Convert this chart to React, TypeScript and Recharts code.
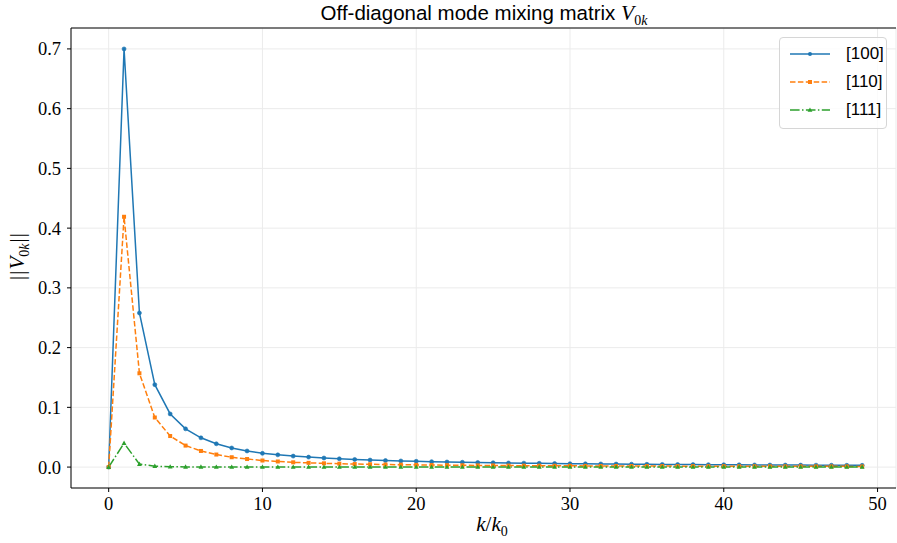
import { LineChart, Line, XAxis, YAxis, CartesianGrid, ReferenceLine } from "recharts";

const kValues = [
  0, 1, 2, 3, 4, 5, 6, 7, 8, 9, 10, 11, 12, 13, 14, 15, 16, 17, 18, 19, 20, 21, 22, 23, 24,
  25, 26, 27, 28, 29, 30, 31, 32, 33, 34, 35, 36, 37, 38, 39, 40, 41, 42, 43, 44, 45, 46, 47, 48, 49,
];

const v100 = [
  0, 0.7, 0.258, 0.138, 0.089, 0.064, 0.049, 0.039, 0.032, 0.027, 0.023, 0.0205, 0.0184, 0.0167,
  0.0152, 0.0139, 0.0128, 0.0118, 0.011, 0.0103, 0.0097, 0.0091, 0.0086, 0.0081, 0.0077, 0.0073,
  0.0069, 0.0066, 0.0063, 0.006, 0.0057, 0.0055, 0.0053, 0.0051, 0.0049, 0.0047, 0.0045, 0.0043,
  0.0042, 0.004, 0.0039, 0.0038, 0.0036, 0.0035, 0.0034, 0.0033, 0.0032, 0.0031, 0.003, 0.0029,
];

const v110 = [
  0, 0.419, 0.157, 0.083, 0.052, 0.036, 0.027, 0.021, 0.0165, 0.0135, 0.011, 0.0094, 0.008, 0.0071,
  0.0063, 0.0057, 0.0051, 0.0047, 0.0043, 0.004, 0.0037, 0.0034, 0.0032, 0.003, 0.0028, 0.0027,
  0.0025, 0.0024, 0.0023, 0.0022, 0.0021, 0.002, 0.0019, 0.0019, 0.0018, 0.0017, 0.0017, 0.0016,
  0.0016, 0.0015, 0.0015, 0.0014, 0.0014, 0.0013, 0.0013, 0.0013, 0.0012, 0.0012, 0.0012, 0.0011,
];

const v111 = [
  0, 0.04, 0.005, 0.0015, 0.0006, 0.0003, 0.0002, 0.0001, 0.0001, 0.0001, 0.0001, 0.0001, 0.0001,
  0.0001, 0.0001, 0.0001, 0.0001, 0.0001, 0.0001, 0.0001, 0.0001, 0.0001, 0.0001, 0.0001, 0.0001,
  0.0001, 0.0001, 0.0001, 0.0001, 0.0001, 0.0001, 0.0001, 0.0001, 0.0001, 0.0001, 0.0001, 0.0001,
  0.0001, 0.0001, 0.0001, 0.0001, 0.0001, 0.0001, 0.0001, 0.0001, 0.0001, 0.0001, 0.0001, 0.0001, 0.0001,
];

const seriesNames = ["[100]", "[110]", "[111]"];
const xTicks = [0, 10, 20, 30, 40, 50];
const yTicks = [0, 0.1, 0.2, 0.3, 0.4, 0.5, 0.6, 0.7];

const BLUE = "#1f77b4";
const ORANGE = "#ff7f0e";
const GREEN = "#2ca02c";
const SERIF = "'Liberation Serif', 'DejaVu Serif', serif";
const SANS = "'Liberation Sans', 'DejaVu Sans', sans-serif";

const rows = kValues.map((k, i) => ({ k, a: v100[i], b: v110[i], c: v111[i] }));

const circleDot = (color: string) => (p: any) => (
  <circle key={`c${p.index}`} cx={p.cx} cy={p.cy} r={2} fill={color} stroke={color} strokeWidth={0.6} />
);
const squareDot = (color: string) => (p: any) => (
  <rect key={`s${p.index}`} x={p.cx - 2} y={p.cy - 2} width={4} height={4} fill={color} />
);
const triDot = (color: string) => (p: any) => (
  <path
    key={`t${p.index}`}
    d={`M${p.cx},${p.cy - 2.6} L${p.cx + 2.4},${p.cy + 1.8} L${p.cx - 2.4},${p.cy + 1.8} Z`}
    fill={color}
  />
);

const tickStyle = { fill: "#000", fontSize: 18.5, fontFamily: SERIF };

function LegendRow({ color, dash, marker, label }: { color: string; dash?: string; marker: string; label: string }) {
  return (
    <div style={{ display: "flex", alignItems: "center", height: 28 }}>
      <svg width={44} height={12} style={{ marginRight: 14 }}>
        <line x1={2} y1={6} x2={42} y2={6} stroke={color} strokeWidth={1.5} strokeDasharray={dash} />
        {marker === "c" && <circle cx={22} cy={6} r={2} fill={color} />}
        {marker === "s" && <rect x={20} y={4} width={4} height={4} fill={color} />}
        {marker === "t" && <path d="M22,3.4 L24.4,7.8 L19.6,7.8 Z" fill={color} />}
      </svg>
      <span style={{ fontFamily: SANS, fontSize: 17, color: "#000" }}>{label}</span>
    </div>
  );
}

export default function App() {
  return (
    <div style={{ position: "absolute", left: 0, top: 0, width: 897, height: 543, background: "#fff" }}>
      <LineChart width={897} height={543} data={rows} margin={{ top: 28, right: 1, bottom: 0, left: 0 }}>
        <CartesianGrid stroke="#ebebeb" strokeWidth={1} />
        <XAxis
          dataKey="k"
          type="number"
          domain={[-2.45, 51.2]}
          ticks={xTicks}
          allowDataOverflow
          height={55}
          tick={tickStyle}
          tickSize={4}
          tickMargin={5}
          axisLine={{ stroke: "#000", strokeWidth: 1 }}
          tickLine={{ stroke: "#000" }}
        />
        <YAxis
          type="number"
          domain={[-0.035, 0.735]}
          ticks={yTicks}
          allowDataOverflow
          width={71}
          tick={tickStyle}
          tickFormatter={(v: number) => v.toFixed(1)}
          tickSize={4}
          tickMargin={6}
          axisLine={{ stroke: "#000", strokeWidth: 1 }}
          tickLine={{ stroke: "#000" }}
        />
        <ReferenceLine y={0.735} stroke="#000" strokeWidth={1} />
        <Line dataKey="a" name={seriesNames[0]} stroke={BLUE} strokeWidth={1.5} dot={circleDot(BLUE)} isAnimationActive={false} />
        <Line dataKey="b" name={seriesNames[1]} stroke={ORANGE} strokeWidth={1.5} strokeDasharray="5.5 2.4" dot={squareDot(ORANGE)} isAnimationActive={false} />
        <Line dataKey="c" name={seriesNames[2]} stroke={GREEN} strokeWidth={1.5} strokeDasharray="9.6 2.4 1.5 2.4" dot={triDot(GREEN)} isAnimationActive={false} />
      </LineChart>

      <div style={{ position: "absolute", left: 0, width: 968, top: 0, textAlign: "center", fontFamily: SANS, fontSize: 20.5, lineHeight: "26px", color: "#000" }}>
        Off-diagonal mode mixing matrix{" "}
        <span style={{ fontFamily: SERIF, fontStyle: "italic", fontSize: 21.5 }}>V</span>
        <sub style={{ fontFamily: SERIF, fontSize: 14 }}>
          0<i>k</i>
        </sub>
      </div>

      <div style={{ position: "absolute", left: 0, width: 984, top: 512, textAlign: "center", fontFamily: SERIF, fontSize: 21, color: "#000" }}>
        <i>k</i>/<i>k</i>
        <sub style={{ fontSize: 14 }}>0</sub>
      </div>

      <div
        style={{
          position: "absolute",
          left: 19,
          top: 256,
          transform: "translate(-50%, -50%) rotate(-90deg)",
          whiteSpace: "nowrap",
          fontFamily: SERIF,
          fontSize: 21,
          color: "#000",
        }}
      >
        <span style={{ letterSpacing: 1 }}>||</span>
        <i>V</i>
        <sub style={{ fontSize: 14 }}>
          0<i>k</i>
        </sub>
        <span style={{ letterSpacing: 1, marginLeft: 1 }}>||</span>
      </div>

      <div
        style={{
          position: "absolute",
          left: 779,
          top: 37,
          width: 98,
          padding: "2px 0 4px 8px",
          background: "rgba(255,255,255,0.8)",
          border: "1px solid #d6d6d6",
          borderRadius: 4,
        }}
      >
        <LegendRow color={BLUE} marker="c" label={seriesNames[0]} />
        <LegendRow color={ORANGE} marker="s" dash="5.5 2.4" label={seriesNames[1]} />
        <LegendRow color={GREEN} marker="t" dash="9.6 2.4 1.5 2.4" label={seriesNames[2]} />
      </div>
    </div>
  );
}
